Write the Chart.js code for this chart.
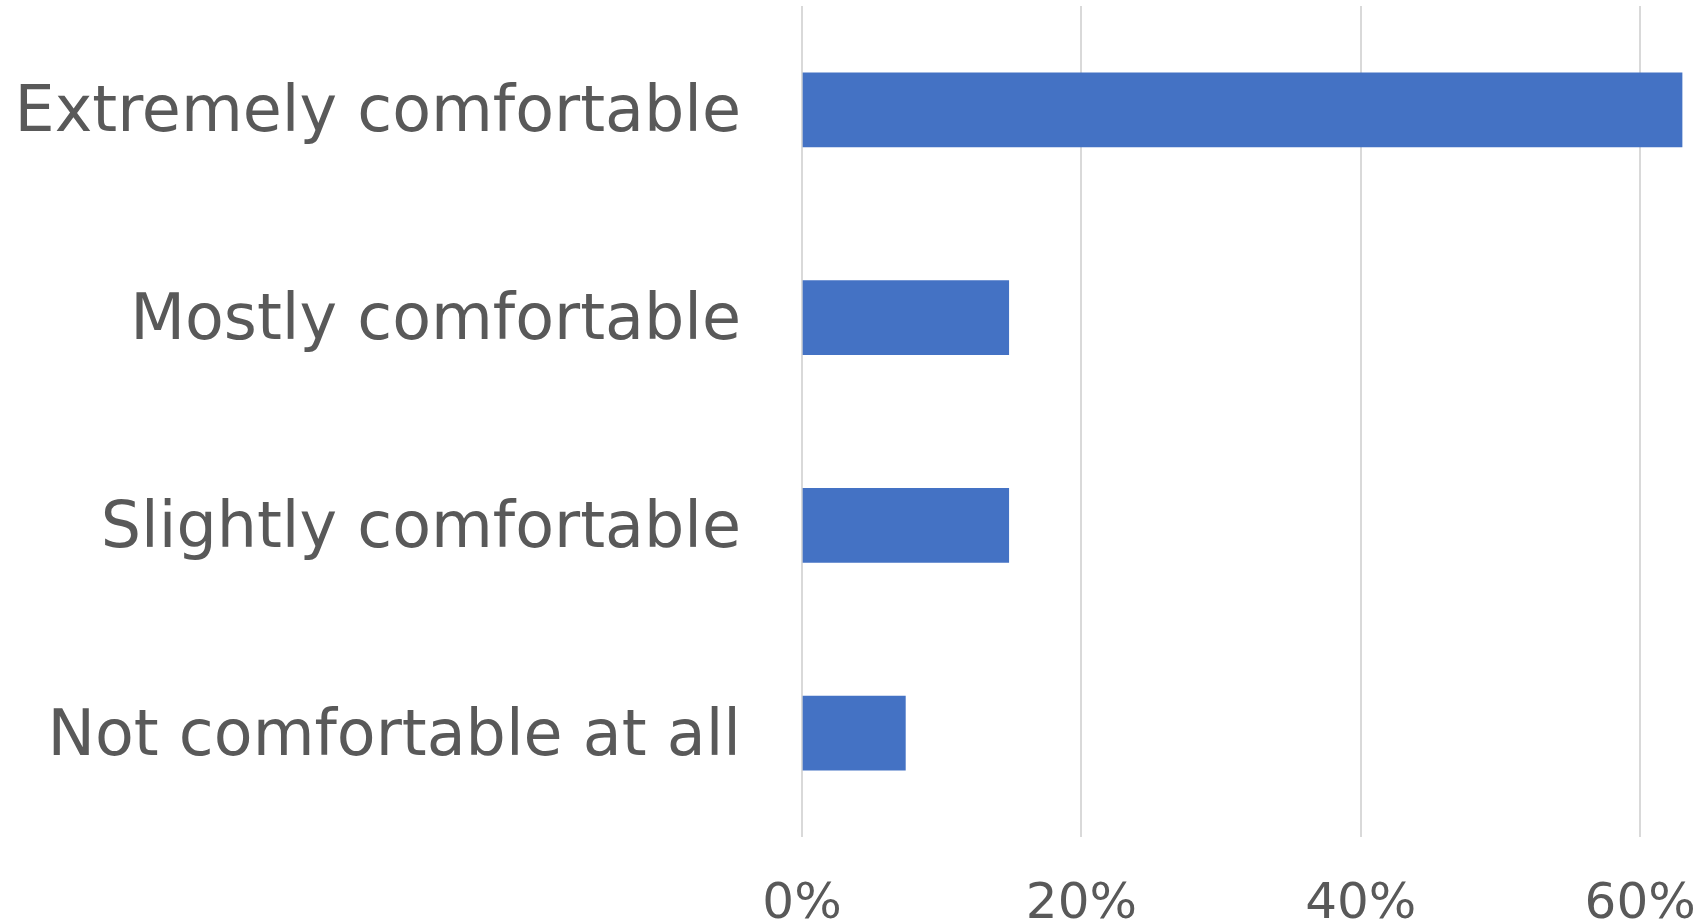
<!DOCTYPE html>
<html>
<head>
  <meta charset="UTF-8">
  <title>Comfort level</title>
  <script src="https://cdn.jsdelivr.net/npm/chart.js"></script>
  <style>
    body {
      margin: 0;
      background: #fff;
    }
  </style>
</head>
<body>
  <div style="width: 1703px; height: 923px;">
    <canvas id="comfortChart"></canvas>
  </div>

  <script>
    const categories = [
      'Extremely comfortable',
      'Mostly comfortable',
      'Slightly comfortable',
      'Not comfortable at all'
    ];
    const shares = [0.63, 0.148, 0.148, 0.074];
    const tickValues = [0, 0.2, 0.4, 0.6];

    const textColor = '#595959';

    new Chart(document.getElementById('comfortChart'), {
      type: 'bar',
      data: {
        labels: categories,
        datasets: [{
          data: shares,
          backgroundColor: '#4472C4',
          borderWidth: 0,
          barThickness: 74
        }]
      },
      options: {
        indexAxis: 'y',
        responsive: true,
        maintainAspectRatio: false,
        animation: false,
        layout: {
          padding: { top: 6, right: 0, left: 0, bottom: 0 }
        },
        plugins: {
          legend: { display: false },
          tooltip: { enabled: false }
        },
        scales: {
          x: {
            min: 0,
            max: 0.645,
            afterBuildTicks: axis => {
              axis.ticks = tickValues.map(v => ({ value: v }));
            },
            afterFit: axis => {
              axis.height = 86;
              axis.paddingLeft = 0;
              axis.paddingRight = 0;
            },
            grid: {
              color: '#d9d9d9',
              lineWidth: 2,
              drawTicks: false
            },
            border: { display: false },
            ticks: {
              padding: 38,
              color: textColor,
              font: { family: 'DejaVu Sans', size: 50 },
              callback: v => Math.round(v * 100) + '%'
            }
          },
          y: {
            afterFit: axis => {
              axis.width = 802;
              axis.paddingTop = 0;
              axis.paddingBottom = 0;
            },
            grid: { display: false, drawTicks: false },
            border: { display: false },
            ticks: {
              padding: 61,
              labelOffset: 5,
              color: textColor,
              font: { family: 'DejaVu Sans', size: 63.5 }
            }
          }
        }
      }
    });
  </script>
</body>
</html>
